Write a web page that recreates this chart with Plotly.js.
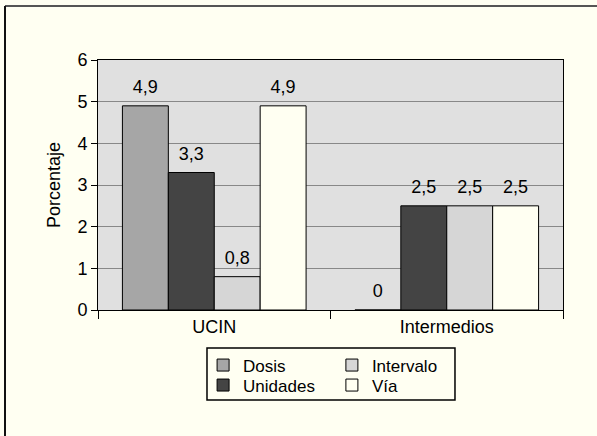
<!DOCTYPE html>
<html>
<head>
<meta charset="utf-8">
<script src="https://cdn.plot.ly/plotly-3.0.1.min.js"></script>
<style>html,body{margin:0;padding:0;background:#fffff2;}</style>
</head>
<body>
<div id="chart" style="width:597px;height:436px;"></div>
<script>
const categories = ["UCIN", "Intermedios"];
const dosis = [4.9, 0];
const unidades = [3.3, 2.5];
const intervalo = [0.8, 2.5];
const via = [4.9, 2.5];
const seriesNames = ["Dosis", "Unidades", "Intervalo", "Vía"];
const yTicks = [0, 1, 2, 3, 4, 5, 6];

const colors = ["#a6a6a6", "#444444", "#d6d6d6", "#fffff2"];
const values = [dosis, unidades, intervalo, via];
const legendIds = ["legend", "legend2", "legend3", "legend4"];

const fam = "Liberation Sans, Arial, sans-serif";
const font = {family: fam, size: 18, color: "#000"};
const legFont = {family: fam, size: 17, color: "#000"};

const bars = values.map((v, i) => ({
  type: "bar",
  name: seriesNames[i],
  x: categories,
  y: v,
  marker: {color: colors[i], line: {color: "#000", width: 1}},
  legend: legendIds[i],
  hoverinfo: "skip"
}));

const labels = values.map((v, i) => ({
  type: "scatter",
  mode: "markers+text",
  orientation: "v",
  x: categories,
  y: v,
  text: v.map(n => String(n).replace(".", ",")),
  textposition: "top center",
  textfont: {family: fam, size: 18, color: "#000"},
  marker: {size: 11.5, opacity: 0, color: "#000"},
  cliponaxis: false,
  showlegend: false,
  hoverinfo: "skip"
}));

function leg(x, y) {
  return {
    x: x, y: y, xanchor: "left", yanchor: "middle",
    orientation: "v", bgcolor: "rgba(0,0,0,0)", borderwidth: 0,
    font: legFont, tracegroupgap: 0
  };
}

const layout = {
  width: 597, height: 436,
  paper_bgcolor: "#fffff2",
  plot_bgcolor: "#e0e0e0",
  font: font,
  margin: {l: 98, r: 34, t: 60, b: 126},
  barmode: "group",
  bargap: 0.21,
  bargroupgap: 0,
  scattermode: "group",
  scattergap: 0.21,
  showlegend: true,
  xaxis: {
    type: "category",
    showline: true, linecolor: "#000", linewidth: 1, mirror: true,
    ticks: "outside", ticklen: 8, tickcolor: "#000", tickson: "boundaries",
    showgrid: false,
    tickfont: font
  },
  yaxis: {
    range: [0, 6],
    tickvals: yTicks,
    ticktext: yTicks.map(String),
    showline: true, linecolor: "#000", linewidth: 1, mirror: true,
    ticks: "outside", ticklen: 6, tickcolor: "#000",
    showgrid: true, gridcolor: "#888888", gridwidth: 1,
    zeroline: false,
    tickfont: font,
    title: {text: "Porcentaje", font: font, standoff: 12}
  },
  legend: leg(0.226, -0.222),
  legend2: leg(0.226, -0.302),
  legend3: leg(0.503, -0.222),
  legend4: leg(0.503, -0.302),
  shapes: [
    {type: "rect", xref: "paper", yref: "paper", x0: 0.2344, x1: 0.7677, y0: -0.36, y1: -0.152,
     line: {color: "#000", width: 1.5}, fillcolor: "rgba(0,0,0,0)"},
    {type: "line", xref: "paper", yref: "paper", x0: -0.2, x1: 1.08, y0: 1.216, y1: 1.216,
     line: {color: "#555", width: 2}},
    {type: "line", xref: "paper", yref: "paper", x0: -0.2, x1: -0.2, y0: 1.216, y1: -0.51,
     line: {color: "#111", width: 2}}
  ]
};

Plotly.newPlot("chart", bars.concat(labels), layout, {displayModeBar: false, staticPlot: true});
</script>
</body>
</html>
